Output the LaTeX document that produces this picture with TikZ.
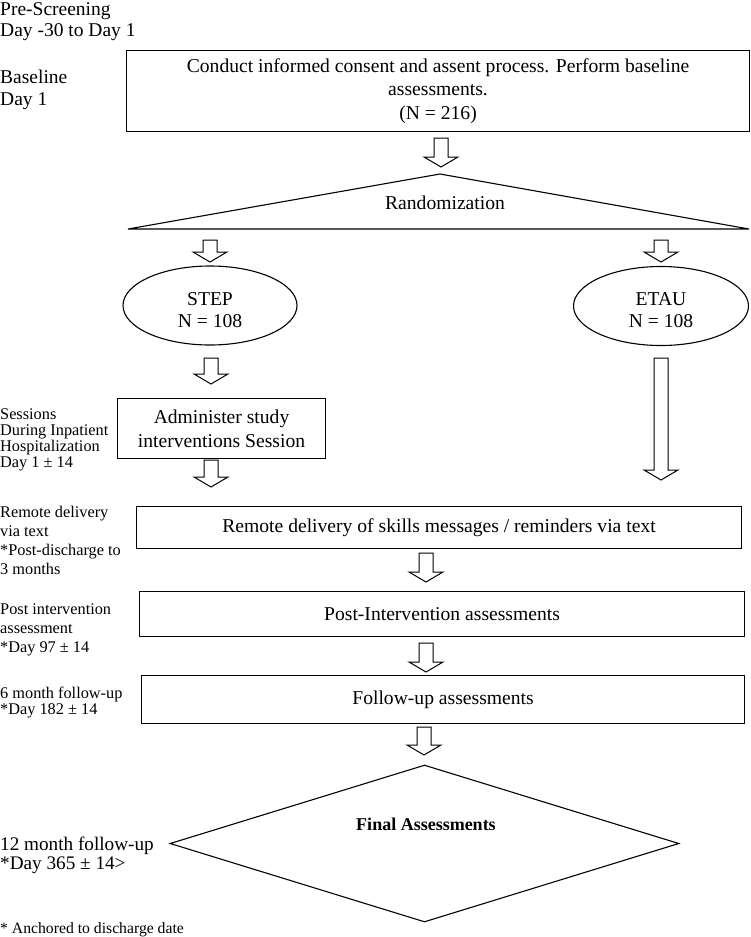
\documentclass[tikz,border=0pt]{standalone}
\usepackage{fontspec}
\setmainfont{Liberation Serif}
\usetikzlibrary{shapes.geometric,calc}
\tikzset{
  x=1pt,y=-1pt,
  every node/.style={font=\fontsize{19.6}{22}\selectfont},
  shapeline/.style={draw=black,line width=1.1pt},
  box/.style={shapeline,rectangle,anchor=north west,inner sep=0pt,align=center,font=\fontsize{19.6}{23.5}\selectfont},
  ell/.style={shapeline,ellipse,inner sep=0pt},
  txt/.style={inner sep=0pt,align=center,font=\fontsize{19.6}{22}\selectfont},
  biglbl/.style={inner sep=0pt,anchor=north west,align=left,font=\fontsize{19.5}{21.5}\selectfont},
  smlbl/.style={inner sep=0pt,anchor=north west,align=left},
  blockarrow/.style={draw=black,fill=white,line width=1pt,line join=miter},
}
\newcommand\barrow[2]{%
  \draw[blockarrow] let \p1=(#1), \p2=(#2) in
    (\x1-7pt,\y1) -- (\x1+7pt,\y1) -- (\x1+7pt,\y2+10pt) -- (\x1+17pt,\y2+10pt)
    -- (\x1,\y2) -- (\x1-17pt,\y2+10pt) -- (\x1-7pt,\y2+10pt) -- cycle;}
\begin{document}
\begin{tikzpicture}
\useasboundingbox[fill=white] (0,0) rectangle (750,937);

% left-hand timeline labels
\node[biglbl] (pre) at (0,2.3) {Pre-Screening\\Day -30 to Day 1};
\node[biglbl] (basel) at (0,69.8) {Baseline\\Day 1};
\node[smlbl,font=\fontsize{16.3}{16}\selectfont] (sess) at (0,409) {Sessions\\During Inpatient\\Hospitalization\\Day 1 ± 14};
\node[smlbl,font=\fontsize{16.3}{18.7}\selectfont] (remlbl) at (0,506.4) {Remote delivery\\via text\\*Post-discharge to\\3 months};
\node[smlbl,font=\fontsize{16.3}{19}\selectfont] (postlbl) at (0,603.4) {Post intervention\\assessment\\*Day 97 ± 14};
\node[smlbl,font=\fontsize{16.3}{16.5}\selectfont] (sixlbl) at (0,686.4) {6 month follow-up\\*Day 182 ± 14};
\node[inner sep=0pt,anchor=base west,font=\fontsize{19.2}{20}\selectfont] (twelvelbl) at (0,850) {12 month follow-up};
\node[inner sep=0pt,anchor=base west,font=\fontsize{19.2}{20}\selectfont] (twelvelblb) at (0,869.5) {*Day 365 ± 14>};
\node[inner sep=0pt,anchor=base west,font=\fontsize{15.7}{16}\selectfont] (foot) at (0,933) {* Anchored to discharge date};

% top box
\node[box,minimum width=623pt,minimum height=81pt] (consent) at (126,50)
  {Conduct informed consent and assent process. Perform baseline\\assessments.\\(N = 216)};
\coordinate (a1s) at (441,138); \coordinate (a1e) at (441,167);
\barrow{a1s}{a1e}

% randomization triangle
\coordinate (tA) at (440,174);
\coordinate (tL) at (128,229);
\coordinate (tR) at (749,229);
\draw[shapeline,line join=miter] (tA) -- (tR) -- (tL) -- cycle;
\node[inner sep=0pt,anchor=base] (rand) at (445,209) {Randomization};

\coordinate (a2s) at (210,240); \coordinate (a2e) at (210,262);
\barrow{a2s}{a2e}
\coordinate (a3s) at (661,240); \coordinate (a3e) at (661,262);
\barrow{a3s}{a3e}

% arms
\node[ell,minimum width=174pt,minimum height=79pt] (step) at (210,305.5) {};
\node[txt] (steptxt) at (210,309.7) {STEP\\N = 108};
\node[ell,minimum width=175pt,minimum height=79pt] (etau) at (661,306) {};
\node[txt] (etautxt) at (661,309.7) {ETAU\\N = 108};

\coordinate (a4s) at (211,358); \coordinate (a4e) at (211,384);
\barrow{a4s}{a4e}
\coordinate (a5s) at (661,358); \coordinate (a5e) at (661,480);
\barrow{a5s}{a5e}

\node[box,minimum width=208pt,minimum height=60pt] (admin) at (117,398)
  {Administer study\\interventions Session};
\coordinate (a6s) at (211,460); \coordinate (a6e) at (211,487);
\barrow{a6s}{a6e}

\node[box,minimum width=605pt,minimum height=42pt] (remote) at (136,506)
  {Remote delivery of skills messages / reminders via text};
\coordinate (a7s) at (426,553); \coordinate (a7e) at (426,582);
\barrow{a7s}{a7e}

\node[box,minimum width=605pt,minimum height=45pt] (post) at (139,591)
  {Post-Intervention assessments};
\coordinate (a8s) at (426,643); \coordinate (a8e) at (426,672);
\barrow{a8s}{a8e}

\node[box,minimum width=603pt,minimum height=48pt] (follow) at (141,675)
  {Follow-up assessments};
\coordinate (a9s) at (424,727); \coordinate (a9e) at (424,755);
\barrow{a9s}{a9e}

\node[shapeline,diamond,inner sep=0pt,minimum width=509pt,minimum height=157pt] (final) at (424.5,843.5) {};
\node[inner sep=0pt,anchor=base,font=\fontsize{18}{20}\bfseries\selectfont] (finaltxt) at (426,830) {Final Assessments};
\end{tikzpicture}
\end{document}
